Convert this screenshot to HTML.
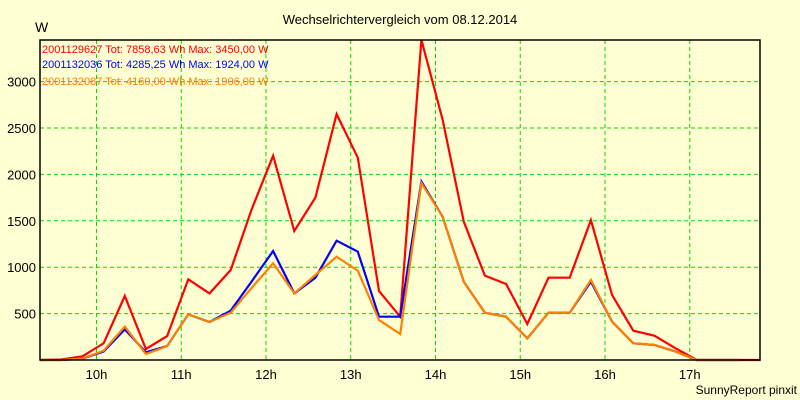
<!DOCTYPE html>
<html><head><meta charset="utf-8"><style>
body{margin:0;background:#ffffd4;}
svg{display:block;font-family:"Liberation Sans",sans-serif;}
</style></head><body>
<svg id="c" width="800" height="400">
<rect x="0" y="0" width="800" height="400" fill="#ffffd4"/>
<text x="400" y="24" text-anchor="middle" font-size="13" fill="#000">Wechselrichtervergleich vom 08.12.2014</text>
<text x="35" y="32" font-size="14" fill="#000">W</text>
<text x="797" y="394" text-anchor="end" font-size="12" fill="#000">SunnyReport pinxit</text>
<g id="grid"></g><g id="series"></g>
<rect x="40" y="40" width="720" height="320" fill="none" stroke="#000" stroke-width="1.5"/>
<g id="labels"></g>
<text x="42" y="53" font-size="11" fill="#ff0000">2001129627 Tot: 7858,63 Wh Max: 3450,00 W</text>
<text x="42" y="68" font-size="11" fill="#0000ff">2001132036 Tot: 4285,25 Wh Max: 1924,00 W</text>
<text x="42" y="85" font-size="11" fill="#ff8000">2001132087 Tot: 4160,00 Wh Max: 1906,00 W</text>
</svg>
<script>
const yTicks=[500,1000,1500,2000,2500,3000];
const xTickLabels=["10h","11h","12h","13h","14h","15h","16h","17h"];
const xTickMinutes=[600,660,720,780,840,900,960,1020];
const startMinute=560; // 9:20, 15-min interval
const redValues=[0,5,40,180,690,118,258,870,718,970,1630,2200,1390,1750,2650,2180,743,467,3450,2590,1490,908,819,388,887,887,1508,700,316,262,126,0,0,0,0];
const blueValues=[0,0,15,90,330,83,150,492,410,531,850,1175,718,887,1286,1167,467,467,1924,1544,844,510,467,234,510,510,844,413,180,162,90,0,0,0];
const orangeValues=[0,0,15,100,360,65,150,492,410,510,780,1042,718,916,1113,962,431,280,1906,1544,844,510,467,234,510,510,862,413,180,162,90,0,0,0];
const NS="http://www.w3.org/2000/svg";
const X=m=>40+(m-560)*(84.75/60);
const Y=v=>360-v*0.0928;
const grid=document.getElementById('grid'),labels=document.getElementById('labels'),series=document.getElementById('series');
function mk(tag,attrs,parent){const e=document.createElementNS(NS,tag);for(const k in attrs)e.setAttribute(k,attrs[k]);parent.appendChild(e);return e;}
yTicks.forEach(v=>{
 const l=mk('line',{x1:40,x2:760,y1:Y(v),y2:Y(v),stroke:'#00dd00','stroke-dasharray':'4,3','stroke-width':1},grid);
 
 
 const t=mk('text',{x:36,y:Y(v)+5,'text-anchor':'end','font-size':13,fill:'#000'},labels);
 t.textContent=v;
 
 
});
xTickMinutes.forEach((m,i)=>{
 const l=mk('line',{x1:X(m),x2:X(m),y1:40,y2:360,stroke:'#00dd00','stroke-dasharray':'4,3','stroke-width':1},grid);
 
 
 const t=mk('text',{x:X(m),y:379,'text-anchor':'middle','font-size':13,fill:'#000'},labels);
 t.textContent=xTickLabels[i];
 
 
});
function line(vals,color,name){
 const pts=vals.map((v,i)=>X(startMinute+15*i).toFixed(1)+','+Y(v).toFixed(1)).join(' ');
 const p=mk('polyline',{points:pts,fill:'none',stroke:color,'stroke-width':2.2,'stroke-linejoin':'miter'},series);
 
 
}
line(redValues,'#ff0000','series-2001129627');
line(blueValues,'#0000ff','series-2001132036');
line(orangeValues,'#ff8000','series-2001132087');
</script>
</body></html>
